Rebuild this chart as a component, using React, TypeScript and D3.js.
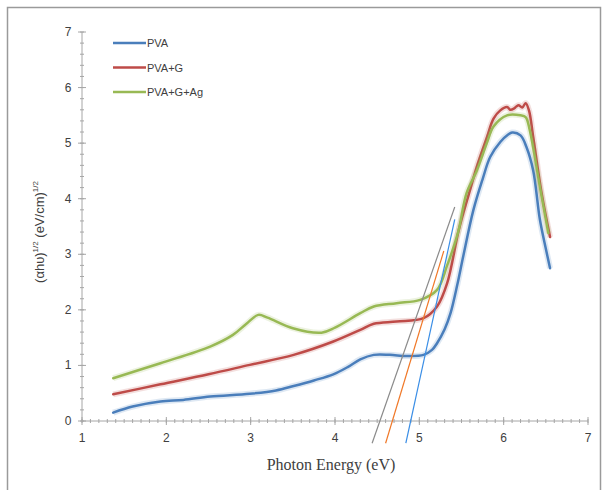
import React from "react";
import * as d3 from "d3";

const xTicks = [1, 2, 3, 4, 5, 6, 7];
const yTicks = [0, 1, 2, 3, 4, 5, 6, 7];

const pvaX = [1.37, 1.6, 1.93, 2.2, 2.52, 2.99, 3.3, 3.51, 3.75, 3.98, 4.15, 4.3, 4.46, 4.65, 4.85, 5.05, 5.15, 5.21, 5.3, 5.37, 5.45, 5.52, 5.64, 5.75, 5.84, 5.96, 6.05, 6.1, 6.2, 6.27, 6.35, 6.43, 6.5, 6.55];
const pvaY = [0.15, 0.26, 0.35, 0.38, 0.44, 0.49, 0.55, 0.63, 0.73, 0.84, 0.97, 1.11, 1.19, 1.19, 1.17, 1.19, 1.28, 1.4, 1.65, 1.94, 2.45, 2.96, 3.79, 4.35, 4.75, 5.02, 5.15, 5.19, 5.14, 4.93, 4.51, 3.62, 3.1, 2.75];

const pvaGX = [1.37, 1.93, 2.5, 2.99, 3.51, 3.98, 4.3, 4.46, 4.73, 5.05, 5.21, 5.33, 5.47, 5.6, 5.68, 5.8, 5.88, 5.96, 6.04, 6.08, 6.12, 6.15, 6.18, 6.22, 6.26, 6.3, 6.35, 6.45, 6.55];
const pvaGY = [0.48, 0.66, 0.84, 1.01, 1.19, 1.43, 1.64, 1.75, 1.79, 1.85, 2.06, 2.48, 3.45, 4.15, 4.57, 5.1, 5.44, 5.59, 5.65, 5.6, 5.62, 5.66, 5.68, 5.64, 5.72, 5.59, 5.11, 4.1, 3.31];

const pvaGAgX = [1.37, 1.93, 2.52, 2.79, 2.95, 3.09, 3.2, 3.5, 3.84, 4.0, 4.3, 4.46, 4.73, 5.01, 5.21, 5.33, 5.46, 5.56, 5.68, 5.8, 5.88, 6.04, 6.2, 6.26, 6.31, 6.43, 6.53];
const pvaGAgY = [0.77, 1.04, 1.34, 1.55, 1.75, 1.91, 1.86, 1.67, 1.59, 1.68, 1.94, 2.06, 2.12, 2.18, 2.36, 2.8, 3.4, 4.1, 4.5, 5.0, 5.3, 5.5, 5.5, 5.47, 5.23, 4.21, 3.38];

const seriesNames = ["PVA", "PVA+G", "PVA+G+Ag"];
const seriesColors = ["#4a7ebb", "#be4b48", "#98b954"];

const tangentX = [[4.44, 5.42], [4.6, 5.29], [4.84, 5.42]];
const tangentY = [[-0.4, 3.85], [-0.4, 3.06], [-0.4, 3.63]];
const tangentColors = ["#8a8a8a", "#f07828", "#3a8ee6"];

export default function App() {
  const x = d3.scaleLinear().domain([1, 7]).range([82, 588]);
  const y = d3.scaleLinear().domain([0, 7]).range([421, 32]);

  const seriesData = [
    pvaX.map((v, i) => [v, pvaY[i]]),
    pvaGX.map((v, i) => [v, pvaGY[i]]),
    pvaGAgX.map((v, i) => [v, pvaGAgY[i]]),
  ];
  const line = d3
    .line<number[]>()
    .x((d) => x(d[0]))
    .y((d) => y(d[1]))
    .curve(d3.curveCatmullRom.alpha(0.5));

  const xMinor = d3.range(10, 71).map((v) => v / 10);
  const yMinor = d3.range(0, 36).map((v) => v / 5);
  const axisColor = "#a6a6a6";

  return (
    <svg width={608} height={490} style={{ position: "absolute", left: 0, top: 0 }}>
      <rect x={0} y={0} width={608} height={490} fill="#ffffff" />
      <path d="M7.5,500 L7.5,7.5 L600.5,7.5 L600.5,500" fill="none" stroke="#9a9a9a" strokeWidth={1.5} />

      {/* axes */}
      <line x1={x(1)} x2={x(7)} y1={y(0)} y2={y(0)} stroke={axisColor} strokeWidth={1} />
      <line x1={x(1)} x2={x(1)} y1={y(0)} y2={y(7)} stroke={axisColor} strokeWidth={1} />
      {xMinor.map((v, i) => (
        <line key={"xm" + i} x1={x(v)} x2={x(v)} y1={y(0) - 2} y2={y(0) + 2} stroke={axisColor} strokeWidth={1} />
      ))}
      {xTicks.map((v) => (
        <line key={"xt" + v} x1={x(v)} x2={x(v)} y1={y(0) - 4} y2={y(0) + 4} stroke={axisColor} strokeWidth={1} />
      ))}
      {yMinor.map((v, i) => (
        <line key={"ym" + i} x1={x(1) - 2} x2={x(1) + 2} y1={y(v)} y2={y(v)} stroke={axisColor} strokeWidth={1} />
      ))}
      {yTicks.map((v) => (
        <line key={"yt" + v} x1={x(1) - 4} x2={x(1) + 4} y1={y(v)} y2={y(v)} stroke={axisColor} strokeWidth={1} />
      ))}
      {xTicks.map((v) => (
        <text key={"xl" + v} x={x(v)} y={y(0) + 21} textAnchor="middle" fontFamily="Liberation Sans, Arial, sans-serif" fontSize={12} fill="#404040">
          {v}
        </text>
      ))}
      {yTicks.map((v) => (
        <text key={"yl" + v} x={x(1) - 14} y={y(v) + 4} textAnchor="middle" fontFamily="Liberation Sans, Arial, sans-serif" fontSize={12} fill="#404040">
          {v}
        </text>
      ))}

      {/* titles */}
      <text x={331} y={470} textAnchor="middle" fontFamily="Liberation Serif, Times New Roman, serif" fontSize={16} fill="#404040">
        Photon Energy (eV)
      </text>
      <text
        transform="translate(44,232) rotate(-90)"
        textAnchor="middle"
        fontFamily="Liberation Sans, Arial, sans-serif"
        fontSize={13}
        fill="#404040"
      >
        (αhυ)
        <tspan fontSize={8} dy={-6}>1/2</tspan>
        <tspan dy={6}>  (eV/cm)</tspan>
        <tspan fontSize={8} dy={-6}>1/2</tspan>
      </text>

      {/* series */}
      {seriesData.map((d, i) => (
        <g key={"s" + i}>
          <path d={line(d) || ""} fill="none" stroke={seriesColors[i]} strokeOpacity={0.18} strokeWidth={6} strokeLinejoin="round" />
          <path d={line(d) || ""} fill="none" stroke={seriesColors[i]} strokeWidth={2.5} strokeLinejoin="round" strokeLinecap="round" />
        </g>
      ))}

      {/* tangent lines */}
      {tangentX.map((tx, i) => (
        <line
          key={"t" + i}
          x1={x(tx[0])}
          y1={y(tangentY[i][0])}
          x2={x(tx[1])}
          y2={y(tangentY[i][1])}
          stroke={tangentColors[i]}
          strokeWidth={1.2}
        />
      ))}

      {/* legend */}
      {seriesNames.map((n, i) => (
        <g key={"lg" + i}>
          <line x1={113} x2={146} y1={43 + i * 24.5} y2={43 + i * 24.5} stroke={seriesColors[i]} strokeWidth={2.5} />
          <text x={147} y={47 + i * 24.5} fontFamily="Liberation Sans, Arial, sans-serif" fontSize={11} fill="#404040">
            {n}
          </text>
        </g>
      ))}
    </svg>
  );
}
